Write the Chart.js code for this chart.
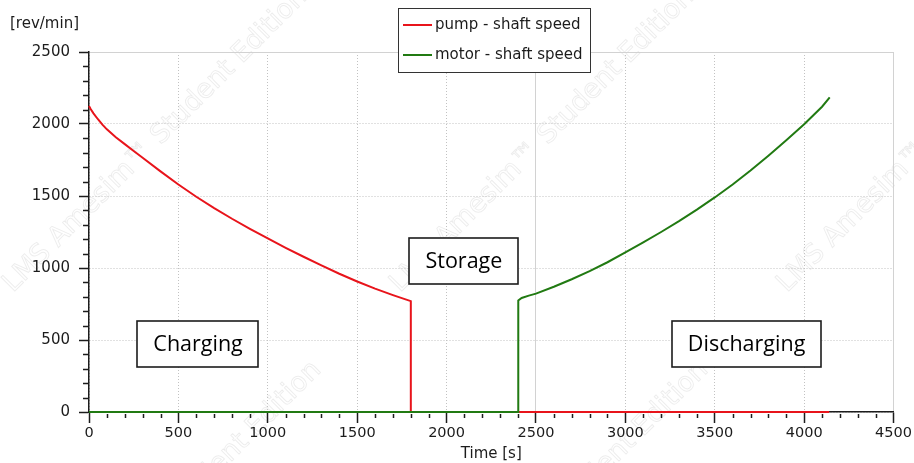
<!DOCTYPE html>
<html>
<head>
<meta charset="utf-8">
<title>Shaft speed</title>
<script src="https://cdn.jsdelivr.net/npm/chart.js@4.4.1/dist/chart.umd.min.js"></script>
<style>
  html, body { margin: 0; padding: 0; background: #ffffff; }
  #wrap { width: 914px; height: 463px; }
</style>
</head>
<body>
<div id="wrap"><canvas id="chart" width="914" height="463"></canvas></div>
<script>
// Pump shaft speed during charging [s] / [rev/min]
const pumpTime  = [0, 10, 25, 50, 75, 100, 150, 200, 250, 300, 400, 500, 600, 700, 800, 900, 1000,
                   1100, 1200, 1300, 1400, 1500, 1600, 1700, 1800, 1800, 4140];
const pumpSpeed = [2125, 2103, 2074, 2033, 1996, 1963, 1908, 1860, 1813, 1766, 1671, 1580, 1495, 1416, 1342, 1272, 1205,
                   1140, 1078, 1018, 960, 906, 857, 812, 770, 0, 0];

// Motor shaft speed during discharging [s] / [rev/min]
const motorTime  = [0, 2400, 2400, 2402, 2420, 2460, 2500, 2600, 2700, 2800, 2900, 3000,
                    3100, 3200, 3300, 3400, 3500, 3600, 3700, 3800, 3900, 4000, 4100, 4143];
const motorSpeed = [0, 0, 310, 775, 792, 808, 822, 870, 922, 978, 1040, 1108,
                    1178, 1250, 1325, 1405, 1490, 1580, 1677, 1780, 1887, 1998, 2120, 2185];

const seriesNames = ['pump - shaft speed', 'motor - shaft speed'];

// Axis tick labels
const timeTicks  = [0, 500, 1000, 1500, 2000, 2500, 3000, 3500, 4000, 4500];
const speedTicks = [0, 500, 1000, 1500, 2000, 2500];
const minorStep = 100;

// Phase labels
const phaseNames = ['Charging', 'Storage', 'Discharging'];
const phaseAnchor = { t: [610, 2097, 3678], v: [475, 1047, 475] };

const UI_FONT = 'DejaVu Sans';
const BOX_FONT = 'Open Sans';
const RED = '#e8141b';
const GREEN = '#217a12';
const INK = '#1c1c1c';

const toPoints = (xs, ys) => xs.map((x, i) => ({ x: x, y: ys[i] }));

const decor = {
  id: 'decor',
  beforeDraw(chart) {
    // faint diagonal edition watermark
    const ctx = chart.ctx;
    ctx.save();
    ctx.font = '27px "' + UI_FONT + '"';
    ctx.strokeStyle = 'rgba(0,0,0,0.075)';
    ctx.lineWidth = 1;
    ctx.textBaseline = 'alphabetic';
    for (let k = 0; k < 3; k++) {
      for (let j = -1; j <= 1; j++) {
        const x = 13 + 387 * k + 373 * j;
        const y = 293 - 373 * j;
        ctx.save();
        ctx.translate(x, y);
        ctx.rotate(-Math.PI / 4);
        ctx.strokeText('LMS Amesim\u2122 Student Edition', 0, 0);
        ctx.restore();
      }
    }
    ctx.restore();
  },
  afterDraw(chart) {
    const ctx = chart.ctx;
    const xs = chart.scales.x, ys = chart.scales.y;
    const area = chart.chartArea;
    ctx.save();

    // minor ticks
    ctx.strokeStyle = INK;
    ctx.lineWidth = 1.5;
    ctx.beginPath();
    for (let v = ys.min; v <= ys.max; v += minorStep) {
      if (speedTicks.includes(v)) continue;
      const py = Math.round(ys.getPixelForValue(v)) + 0.5;
      ctx.moveTo(area.left - 6, py);
      ctx.lineTo(area.left - 1, py);
    }
    for (let t = xs.min; t <= xs.max; t += minorStep) {
      if (timeTicks.includes(t)) continue;
      const px = Math.round(xs.getPixelForValue(t)) + 0.5;
      ctx.moveTo(px, area.bottom + 2);
      ctx.lineTo(px, area.bottom + 6);
    }
    ctx.stroke();

    // unit label of the speed axis
    ctx.fillStyle = INK;
    ctx.font = '15px "' + UI_FONT + '"';
    ctx.textAlign = 'left';
    ctx.textBaseline = 'middle';
    ctx.fillText('[rev/min]', area.left - 79, area.top - 28);

    // phase boxes
    ctx.font = '21.5px "' + BOX_FONT + '"';
    ctx.textAlign = 'center';
    ctx.textBaseline = 'middle';
    phaseNames.forEach((name, i) => {
      const cx = xs.getPixelForValue(phaseAnchor.t[i]);
      const cy = ys.getPixelForValue(phaseAnchor.v[i]);
      const w = ctx.measureText(name).width + 32;
      const h = 46;
      const bx = Math.round(cx - w / 2), by = Math.round(cy - h / 2);
      ctx.fillStyle = '#ffffff';
      ctx.fillRect(bx, by, Math.round(w), h);
      ctx.strokeStyle = INK;
      ctx.lineWidth = 1.6;
      ctx.strokeRect(bx, by, Math.round(w), h);
      ctx.fillStyle = '#000000';
      ctx.fillText(name, cx, cy + 1);
    });

    // legend box
    const lx = 398.5, ly = 8.5, lw = 192, lh = 64;
    ctx.fillStyle = '#ffffff';
    ctx.fillRect(lx, ly, lw, lh);
    ctx.strokeStyle = '#333333';
    ctx.lineWidth = 1;
    ctx.strokeRect(lx, ly, lw, lh);
    ctx.font = '15px "' + UI_FONT + '"';
    ctx.textAlign = 'left';
    ctx.textBaseline = 'middle';
    chart.data.datasets.forEach((ds, i) => {
      const y = 25 + i * 30;
      ctx.strokeStyle = ds.borderColor;
      ctx.lineWidth = 2;
      ctx.beginPath();
      ctx.moveTo(403, y);
      ctx.lineTo(432, y);
      ctx.stroke();
      ctx.fillStyle = INK;
      ctx.fillText(ds.label, 435, y);
    });
    ctx.restore();
  }
};

const gridColor = c => (c.tick && (c.tick.value === 4500 || c.tick.value === 2500)) ? '#d2d2d2' : '#c2c2c2';
const gridDash = c => (c.tick && (c.tick.value === 4500 || c.tick.value === 2500)) ? [] : [1, 2];
const plainLabel = v => String(v);

new Chart(document.getElementById('chart'), {
  type: 'line',
  data: {
    datasets: [
      { label: seriesNames[0], data: toPoints(pumpTime, pumpSpeed), borderColor: RED, backgroundColor: RED,
        borderWidth: 2, pointRadius: 0, tension: 0, fill: false, clip: false, order: 1 },
      { label: seriesNames[1], data: toPoints(motorTime, motorSpeed), borderColor: GREEN, backgroundColor: GREEN,
        borderWidth: 2, pointRadius: 0, tension: 0, fill: false, clip: false, order: 0 }
    ]
  },
  options: {
    responsive: false,
    animation: false,
    devicePixelRatio: 1,
    layout: { padding: { top: 52, right: 19, left: 0, bottom: 0 } },
    plugins: { legend: { display: false }, tooltip: { enabled: false } },
    scales: {
      x: {
        type: 'linear',
        min: 0, max: 4500,
        afterBuildTicks: s => { s.ticks = timeTicks.map(v => ({ value: v })); },
        afterFit: s => { s.height = 51; },
        ticks: { font: { family: UI_FONT, size: 14.5 }, color: INK, padding: 2, maxRotation: 0, autoSkip: false, callback: plainLabel },
        grid: { color: gridColor, lineWidth: 1, tickLength: 11, tickColor: INK, tickWidth: 1.5 },
        border: { display: true, color: INK, width: 1.5, dash: gridDash },
        title: { display: true, text: 'Time [s]', font: { family: UI_FONT, size: 15 }, color: INK, padding: 0 }
      },
      y: {
        type: 'linear',
        min: 0, max: 2500,
        afterBuildTicks: s => { s.ticks = speedTicks.map(v => ({ value: v })); },
        afterFit: s => { s.width = 89; },
        ticks: { font: { family: UI_FONT, size: 15 }, color: INK, padding: 9, callback: plainLabel },
        grid: { color: gridColor, lineWidth: 1, tickLength: 10, tickColor: INK, tickWidth: 1.5 },
        border: { display: true, color: INK, width: 1.5, dash: gridDash }
      }
    }
  },
  plugins: [decor]
});
</script>
</body>
</html>
